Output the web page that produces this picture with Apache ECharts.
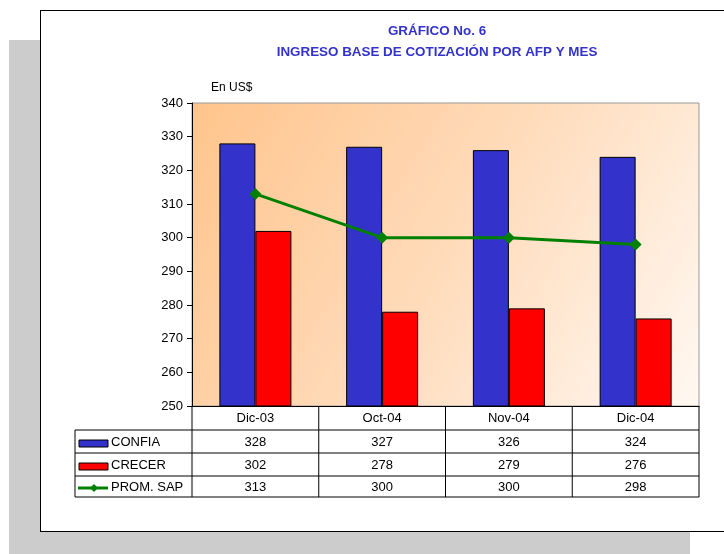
<!DOCTYPE html>
<html>
<head>
<meta charset="utf-8">
<script src="https://cdn.jsdelivr.net/npm/echarts@6/dist/echarts.min.js"></script>
<style>
  body { margin: 0; background: #fff; }
  #wrap { position: relative; width: 724px; height: 554px; overflow: hidden; }
  .shadow { position: absolute; left: 9px; top: 40px; width: 681px; height: 520px; background: #ccc; }
  .frame { position: absolute; left: 40px; top: 10px; width: 700px; height: 520px; background: #fff; border: 1.5px solid #000; }
  #chart { position: absolute; left: 0; top: 0; width: 724px; height: 554px; }
</style>
</head>
<body>
<div id="wrap">
  <div class="shadow"></div>
  <div class="frame"></div>
  <div id="chart"></div>
</div>
<script>
// datos del gráfico
const categories = ['Dic-03', 'Oct-04', 'Nov-04', 'Dic-04']
const confia = [328, 327, 326, 324]
const crecer = [302, 278, 279, 276]
const promSap = [313, 300, 300, 298]
const seriesNames = ['CONFIA', 'CRECER', 'PROM. SAP']
const yMin = 250
const yMax = 340
const yStep = 10

const FONT = '"Liberation Sans", Arial, sans-serif'
const BLUE = '#3333CC'
const RED = '#FF0000'
const GREEN = '#008000'

// geometría del área de trazado y de la tabla
const gLeft = 192, gTop = 103, gRight = 699, gBottom = 406
const tableLeft = 75
const rowY = [430, 453, 476, 497]

const chart = echarts.init(document.getElementById('chart'), null, { renderer: 'canvas' })

chart.setOption({
  backgroundColor: 'transparent',
  animation: false,
  textStyle: { fontFamily: FONT },
  grid: {
    left: gLeft, top: gTop, width: gRight - gLeft, height: gBottom - gTop,
    show: true,
    borderColor: '#999',
    borderWidth: 1,
    backgroundColor: new echarts.graphic.LinearGradient(0, 0, 1, 1, [
      { offset: 0, color: '#FFC48C' },
      { offset: 0.5, color: '#FFDBBA' },
      { offset: 1, color: '#FFF8F2' }
    ])
  },
  xAxis: {
    type: 'category',
    data: categories,
    axisLine: { lineStyle: { color: '#000', width: 1 } },
    axisTick: { show: false },
    axisLabel: { color: '#000', fontSize: 13, fontFamily: FONT, margin: 6 }
  },
  yAxis: {
    type: 'value',
    min: yMin, max: yMax, interval: yStep,
    axisLine: { show: true, lineStyle: { color: '#000', width: 1 } },
    axisTick: { show: true, length: 5, lineStyle: { color: '#000' } },
    axisLabel: { color: '#000', fontSize: 13, fontFamily: FONT, margin: 9 },
    splitLine: { show: false }
  },
  series: [
    {
      name: seriesNames[0], type: 'bar', data: confia,
      barWidth: 36, barGap: '0%',
      itemStyle: { color: BLUE, borderColor: '#000', borderWidth: 1 }
    },
    {
      name: seriesNames[1], type: 'bar', data: crecer,
      barWidth: 36, barGap: '0%',
      itemStyle: { color: RED, borderColor: '#000', borderWidth: 1 }
    },
    {
      name: seriesNames[2], type: 'line', data: promSap,
      symbol: 'diamond', symbolSize: 12, z: 5,
      lineStyle: { color: GREEN, width: 3 },
      itemStyle: { color: GREEN }
    }
  ]
})

// tabla de datos bajo el eje
const graphics = []
const line = (x1, y1, x2, y2) => graphics.push({
  type: 'line', shape: { x1, y1, x2, y2 },
  style: { stroke: '#000', lineWidth: 1 }, z: 20
})
const text = (str, x, y, opts) => graphics.push({
  type: 'text', x, y, z: 20,
  style: Object.assign({ text: str, fill: '#000', font: '13px ' + FONT, textAlign: 'center', textVerticalAlign: 'middle' }, opts || {})
})

// títulos
text('GRÁFICO No. 6', 437, 31, { fill: BLUE, font: 'bold 13.4px ' + FONT })
text('INGRESO BASE DE COTIZACIÓN POR AFP Y MES', 437, 52.5, { fill: BLUE, font: 'bold 13.4px ' + FONT })
text('En US$', 211, 88, { textAlign: 'left', font: '12px ' + FONT })

const colBounds = [gLeft]
categories.forEach((c, i) => {
  const cx = chart.convertToPixel({ xAxisIndex: 0 }, i)
  const half = (gRight - gLeft) / categories.length / 2
  colBounds.push(cx + half)
})
colBounds.forEach(x => line(x, gBottom, x, rowY[3]))
line(tableLeft, rowY[0], tableLeft, rowY[3])
rowY.forEach(y => line(tableLeft, y, gRight, y))

const rows = [confia, crecer, promSap]
rows.forEach((vals, r) => {
  const cy = rowY[r] + (rowY[r + 1] - rowY[r]) / 2 + 1
  vals.forEach((v, i) => {
    text(String(v), chart.convertToPixel({ xAxisIndex: 0 }, i), cy)
  })
  text(seriesNames[r], 111, cy, { textAlign: 'left' })
})

// claves de leyenda
graphics.push({ type: 'rect', shape: { x: 79, y: 440, width: 29, height: 7 }, style: { fill: BLUE, stroke: '#000', lineWidth: 1 }, z: 20 })
graphics.push({ type: 'rect', shape: { x: 79, y: 463, width: 29, height: 7 }, style: { fill: RED, stroke: '#000', lineWidth: 1 }, z: 20 })
graphics.push({ type: 'line', shape: { x1: 78, y1: 488, x2: 108, y2: 488 }, style: { stroke: GREEN, lineWidth: 3 }, z: 20 })
graphics.push({ type: 'polygon', shape: { points: [[94, 484], [98, 488], [94, 492], [90, 488]] }, style: { fill: GREEN }, z: 21 })

chart.setOption({ graphic: graphics })
</script>
</body>
</html>
